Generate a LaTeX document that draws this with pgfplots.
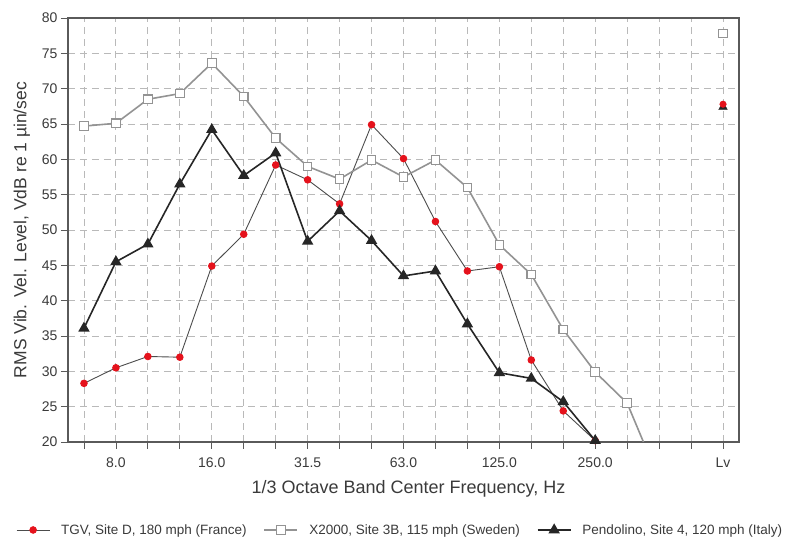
\documentclass[border=0pt]{standalone}
\usepackage{fontspec}
\setmainfont{Liberation Sans}
\usepackage{pgfplots}
\pgfplotsset{compat=1.18}
\definecolor{framegray}{HTML}{5A5A5A}
\definecolor{gridgray}{HTML}{B9B9B9}
\definecolor{textgray}{HTML}{3A3A3A}
\definecolor{xgray}{HTML}{939393}
\definecolor{tgvline}{HTML}{4C4C4C}
\definecolor{pendo}{HTML}{262626}
\definecolor{tgvred}{HTML}{E5121C}

\begin{document}
\begin{tikzpicture}
\begin{axis}[
  scale only axis, width=671pt, height=424pt,
  xmin=-0.5, xmax=20.5, ymin=20, ymax=80,
  xtick={0,...,20},
  xticklabels={,8.0,,,16.0,,,31.5,,,63.0,,,125.0,,,250.0,,,,Lv},
  ytick={20,25,...,80},
  xtick pos=bottom, ytick pos=left,
  tick align=outside, major tick length=7pt,
  tick style={framegray, line width=0.8pt},
  axis line style={framegray, line width=1.8pt},
  grid=major,
  grid style={gridgray, dash pattern=on 7pt off 5pt, line width=0.9pt},
  ticklabel style={font=\fontsize{14}{16}\selectfont, text=textgray},
  xticklabel style={yshift=-5pt},
  xlabel style={font=\fontsize{18}{20}\selectfont, text=textgray, yshift=-6pt, xshift=5pt},
  ylabel style={font=\fontsize{17.5}{19}\selectfont, text=textgray, yshift=5pt},
  xlabel={1/3 Octave Band Center Frequency, Hz},
  ylabel={RMS Vib. Vel. Level, VdB re 1 µin/sec},
  /pgf/number format/assume math mode=true,
  legend columns=3,
  legend style={at={(0.495,-0.2075)}, anchor=center, draw=none, fill=none,
    font=\fontsize{13.5}{15}\selectfont, text=textgray,
    /tikz/every even column/.append style={column sep=15pt}},
  legend image code/.code={\draw[mark repeat=2,mark phase=2] plot coordinates {(0pt,0pt)(16.5pt,0pt)(33pt,0pt)}; \path (42pt,0pt);},
]
% TGV, Site D
\addplot[tgvline, line width=0.9pt, mark=*, mark size=3.3pt,
  mark options={fill=tgvred, draw=tgvred, solid}] coordinates {
  (0,28.3)(1,30.5)(2,32.1)(3,32.0)(4,44.9)(5,49.4)(6,59.2)(7,57.1)(8,53.7)
  (9,64.9)(10,60.1)(11,51.2)(12,44.2)(13,44.8)(14,31.6)(15,24.4)(16,20.2)};
\addlegendentry{TGV, Site D, 180 mph (France)}
% X2000, Site 3B
\addplot[xgray, line width=1.6pt, mark=square*, mark size=4.3pt,
  mark options={fill=white, draw=xgray, line width=1.1pt, solid}] coordinates {
  (0,64.7)(1,65.1)(2,68.5)(3,69.3)(4,73.6)(5,68.9)(6,63.0)(7,59.0)(8,57.2)
  (9,59.9)(10,57.5)(11,59.9)(12,56.0)(13,47.9)(14,43.7)(15,35.9)(16,29.9)
  (17,25.5)(18,14.7)};
\addlegendentry{X2000, Site 3B, 115 mph (Sweden)}
% Pendolino, Site 4
\addplot[pendo, line width=1.6pt, mark=triangle*, mark size=5pt,
  mark options={fill=pendo, draw=pendo, solid}] coordinates {
  (0,36.1)(1,45.5)(2,48.0)(3,56.5)(4,64.2)(5,57.7)(6,60.9)(7,48.4)(8,52.7)
  (9,48.5)(10,43.5)(11,44.2)(12,36.7)(13,29.8)(14,29.0)(15,25.7)(16,20.2)};
\addlegendentry{Pendolino, Site 4, 120 mph (Italy)}
% overall levels Lv
\addplot[forget plot, only marks, mark=square*, mark size=4.3pt,
  mark options={fill=white, draw=xgray, line width=1.1pt}] coordinates {(20,77.8)};
\addplot[forget plot, only marks, mark=triangle*, mark size=5pt,
  mark options={fill=pendo, draw=pendo}] coordinates {(20,67.4)};
\addplot[forget plot, only marks, mark=*, mark size=3.3pt,
  mark options={fill=tgvred, draw=tgvred}] coordinates {(20,67.8)};
\coordinate (ll) at (rel axis cs:0,0);
\coordinate (ur) at (rel axis cs:1,1);
\end{axis}
\pgfresetboundingbox
\path ([shift={(-68pt,-96pt)}]ll) rectangle ([shift={(46pt,18pt)}]ur);
\end{tikzpicture}
\end{document}
